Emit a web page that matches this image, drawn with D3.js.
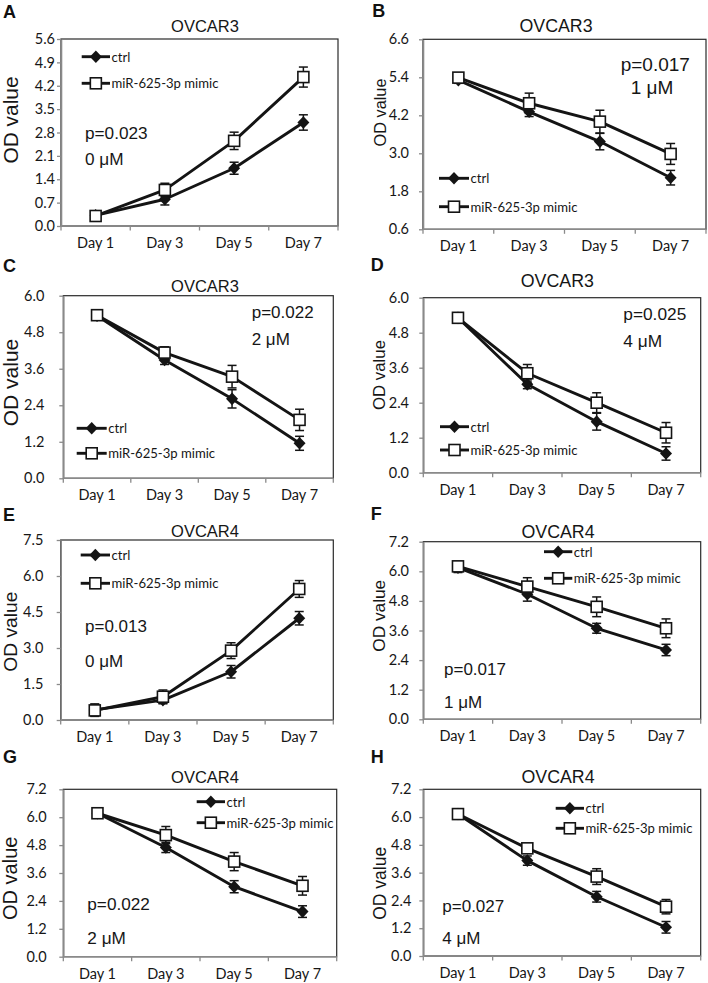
<!DOCTYPE html>
<html><head><meta charset="utf-8">
<script src="https://cdn.jsdelivr.net/npm/d3@7"></script>
<style>body{margin:0;background:#fff}</style>
</head><body><svg id="c" width="708" height="983"></svg>
<script>
const days = ["Day 1","Day 3","Day 5","Day 7"];
const panelLetters = ["A","B","C","D","E","F","G","H"];
const cellLines = ["OVCAR3","OVCAR3","OVCAR3","OVCAR3","OVCAR4","OVCAR4","OVCAR4","OVCAR4"];
const pLabels = ["p=0.023","p=0.017","p=0.022","p=0.025","p=0.013","p=0.017","p=0.022","p=0.027"];
const doseLabels = ["0 μM","1 μM","2 μM","4 μM","0 μM","1 μM","2 μM","4 μM"];
const seriesNames = ["ctrl","miR-625-3p mimic"];
const yAxisTitle = "OD value";

const ctrlValues = [
  [0.32,0.80,1.73,3.10],
  [5.31,4.31,3.37,2.23],
  [5.34,3.89,2.61,1.15],
  [5.31,3.03,1.75,0.66],
  [0.42,0.83,2.01,4.24],
  [6.15,5.07,3.69,2.81],
  [6.17,4.70,3.01,1.94],
  [6.13,4.12,2.56,1.24]];
const ctrlErrors = [
  [0.12,0.17,0.18,0.23],
  [0.10,0.15,0.26,0.23],
  [0.10,0.15,0.30,0.23],
  [0.10,0.15,0.29,0.23],
  [0.25,0.15,0.26,0.28],
  [0.20,0.28,0.20,0.23],
  [0.12,0.22,0.26,0.25],
  [0.12,0.20,0.23,0.25]];
const mimicValues = [
  [0.30,1.08,2.55,4.46],
  [5.39,4.58,4.00,2.98],
  [5.36,4.13,3.34,1.92],
  [5.31,3.41,2.40,1.37],
  [0.40,0.97,2.89,5.46],
  [6.20,5.38,4.56,3.69],
  [6.17,5.23,4.09,3.05],
  [6.13,4.65,3.43,2.13]];
const mimicErrors = [
  [0.15,0.20,0.26,0.30],
  [0.12,0.32,0.36,0.33],
  [0.12,0.19,0.37,0.35],
  [0.12,0.30,0.34,0.35],
  [0.25,0.28,0.33,0.35],
  [0.20,0.36,0.40,0.38],
  [0.12,0.37,0.39,0.40],
  [0.15,0.20,0.34,0.31]];
const yTicks = [
  [0.0,0.7,1.4,2.1,2.8,3.5,4.2,4.9,5.6],
  [0.6,1.8,3.0,4.2,5.4,6.6],
  [0.0,1.2,2.4,3.6,4.8,6.0],
  [0.0,1.2,2.4,3.6,4.8,6.0],
  [0.0,1.5,3.0,4.5,6.0,7.5],
  [0.0,1.2,2.4,3.6,4.8,6.0,7.2],
  [0.0,1.2,2.4,3.6,4.8,6.0,7.2],
  [0.0,1.2,2.4,3.6,4.8,6.0,7.2]];

// layout (positions / sizes / styles)
const layout = [
  {L:61,R:338,T:39,B:226, lx:3,ly:18.3, tx:205,ty:31.7,tfs:16.5, yx:10,yy:120,yfs:20.9, tickR:55,
   legX1:81.7,legX2:110,legY:[56.7,83.3], px:85,py:[139.3,165],pfs:17.2},
  {L:423,R:706,T:39.3,B:229.3, lx:372.3,ly:16.7, tx:556,ty:31.7,tfs:17.8, yx:379.7,yy:112.5,yfs:16.3, tickR:409,
   legX1:439,legX2:469,legY:[178.3,206.7], px:620.7,py:[70.7,94],pfs:19, px2:630.7},
  {L:63.3,R:333.3,T:295.7,B:478.3, lx:3,ly:271.7, tx:205,ty:291.7,tfs:16.5, yx:10,yy:382.5,yfs:21, tickR:44.3,
   legX1:76.7,legX2:106.7,legY:[428.3,453.3], px:251.7,py:[318.3,345],pfs:17},
  {L:423.3,R:700.7,T:297.7,B:472.7, lx:370.7,ly:270.7, tx:557.3,ty:286.7,tfs:17.8, yx:379,yy:375,yfs:16.8, tickR:409,
   legX1:440,legX2:469,legY:[426.7,450], px:623.3,py:[320,346.7],pfs:17.3},
  {L:60.7,R:333.3,T:540,B:720, lx:3,ly:521, tx:205,ty:536.7,tfs:16.5, yx:10,yy:631.7,yfs:19.2, tickR:43.3,
   legX1:80.7,legX2:110,legY:[555,583.3], px:85,py:[632.3,666.7],pfs:17},
  {L:423.3,R:700.7,T:541.7,B:719.3, lx:370.7,ly:520, tx:558,ty:538.3,tfs:17.8, yx:379,yy:615.8,yfs:17.3, tickR:409,
   legX1:544,legX2:572.3,legY:[551.7,578.3], px:444,py:[675,708.3],pfs:17},
  {L:63.3,R:336.7,T:789.3,B:956.7, lx:3,ly:763.3, tx:205,ty:783.3,tfs:16.5, yx:10,yy:878.3,yfs:20, tickR:46.7,
   legX1:196.7,legX2:225,legY:[801.7,822.7], px:87.3,py:[910,944],pfs:17.2},
  {L:423.3,R:700.7,T:789.3,B:956, lx:370.7,ly:763.3, tx:558,ty:783.3,tfs:17.8, yx:379.5,yy:883.3,yfs:17.5, tickR:411.3,
   legX1:555.7,legX2:584,legY:[808.3,828.3], px:442.3,py:[912.3,944],pfs:17}
];

const INK = "#141414";
const TXT = "#161616";
const AXIS = "#8a8a8a";
const TICKFONT = "Lato, 'Open Sans', sans-serif";
const svg = d3.select("#c");
svg.append("rect").attr("width",708).attr("height",983).attr("fill","#fff");

function diamondPath(cx, cy, w, h){
  return `M${cx},${cy-h}L${cx+w},${cy}L${cx},${cy+h}L${cx-w},${cy}Z`;
}
function drawMarker(g, kind, cx, cy){
  if(kind===0){
    g.append("path").attr("d", diamondPath(cx,cy,6,6.3)).attr("fill",INK);
  } else {
    g.append("rect").attr("x",cx-5.5).attr("y",cy-5.5).attr("width",11).attr("height",11)
      .attr("fill","#fff").attr("stroke",INK).attr("stroke-width",1.6);
  }
}

layout.forEach((lo, i) => {
  const g = svg.append("g");
  const x = d3.scaleBand().domain(days).range([lo.L, lo.R]).paddingInner(0).paddingOuter(0);
  const ticks = yTicks[i];
  const y = d3.scaleLinear().domain([ticks[0], ticks[ticks.length-1]]).range([lo.B, lo.T]);
  const cx = d => x(d) + x.bandwidth()/2;

  // plot frame (top/right)
  g.append("rect").attr("x",lo.L).attr("y",lo.T).attr("width",lo.R-lo.L).attr("height",lo.B-lo.T)
    .attr("fill","none").attr("stroke","#2a2a2a").attr("stroke-width",1.2);

  // y axis
  const yAx = d3.axisLeft(y).tickValues(ticks).tickFormat(d3.format(".1f"))
    .tickSizeInner(4).tickSizeOuter(0).tickPadding(lo.L - lo.tickR - 4);
  const ya = g.append("g").attr("transform",`translate(${lo.L},0)`).call(yAx);
  ya.select(".domain").attr("stroke",AXIS).attr("stroke-width",1.6);
  ya.selectAll(".tick line").attr("stroke",AXIS).attr("stroke-width",1.3);
  ya.selectAll(".tick text").attr("font-family",TICKFONT).attr("font-size",14.5).attr("fill",TXT);

  // x axis (labels at band centres, ticks at band boundaries)
  const xAx = d3.axisBottom(x).tickSize(0).tickPadding(0);
  const xa = g.append("g").attr("transform",`translate(0,${lo.B})`).call(xAx);
  xa.select(".domain").remove();
  xa.selectAll(".tick text").attr("font-family",TICKFONT).attr("font-size",14.5)
    .attr("fill",TXT).attr("dy",null).attr("y",22);
  g.append("line").attr("x1",lo.L).attr("x2",lo.R).attr("y1",lo.B).attr("y2",lo.B)
    .attr("stroke",AXIS).attr("stroke-width",1.6);
  const bounds = days.map(d => x(d)).concat([lo.R]);
  g.selectAll(".xb").data(bounds).enter().append("line")
    .attr("x1",d=>d).attr("x2",d=>d).attr("y1",lo.B).attr("y2",lo.B+4.5)
    .attr("stroke",AXIS).attr("stroke-width",1.3);

  // series
  const series = [
    {vals: ctrlValues[i], errs: ctrlErrors[i], kind:0},
    {vals: mimicValues[i], errs: mimicErrors[i], kind:1}
  ];
  const line = d3.line().x((d,j)=>cx(days[j])).y(d=>y(d));
  series.forEach(s => {
    g.append("path").attr("d", line(s.vals)).attr("fill","none")
      .attr("stroke",INK).attr("stroke-width",2.9).attr("stroke-linejoin","round");
  });
  series.forEach(s => {
    s.vals.forEach((v,j) => {
      const px = cx(days[j]);
      const y1 = y(v - s.errs[j]), y2 = y(v + s.errs[j]);
      g.append("line").attr("x1",px).attr("x2",px).attr("y1",y1).attr("y2",y2).attr("stroke",INK).attr("stroke-width",1.5);
      g.append("line").attr("x1",px-4.5).attr("x2",px+4.5).attr("y1",y1).attr("y2",y1).attr("stroke",INK).attr("stroke-width",1.5);
      g.append("line").attr("x1",px-4.5).attr("x2",px+4.5).attr("y1",y2).attr("y2",y2).attr("stroke",INK).attr("stroke-width",1.5);
    });
  });
  series.forEach(s => {
    s.vals.forEach((v,j) => drawMarker(g, s.kind, cx(days[j]), y(v)));
  });

  // legend
  seriesNames.forEach((name, k) => {
    const ly = lo.legY[k];
    g.append("line").attr("x1",lo.legX1).attr("x2",lo.legX2).attr("y1",ly).attr("y2",ly)
      .attr("stroke",INK).attr("stroke-width",2.9);
    drawMarker(g, k, (lo.legX1+lo.legX2)/2, ly);
    g.append("text").attr("x",lo.legX2+1.5).attr("y",ly+4.8).text(name)
      .attr("font-family",TICKFONT).attr("font-size",13.1).attr("fill",TXT);
  });

  // titles and annotations
  g.append("text").attr("x",lo.lx).attr("y",lo.ly).text(panelLetters[i])
    .attr("font-family","'Liberation Sans', Arial, sans-serif").attr("font-weight","bold")
    .attr("font-size",18).attr("fill","#111");
  g.append("text").attr("x",lo.tx).attr("y",lo.ty).attr("text-anchor","middle").text(cellLines[i])
    .attr("font-family","'Liberation Sans', Arial, sans-serif").attr("font-size",lo.tfs).attr("fill",TXT);
  g.append("text").attr("transform",`translate(${lo.yx},${lo.yy}) rotate(-90)`)
    .attr("text-anchor","middle").attr("dominant-baseline","central").text(yAxisTitle)
    .attr("font-family","'Liberation Sans', Arial, sans-serif").attr("font-size",lo.yfs).attr("fill",TXT);
  g.append("text").attr("x",lo.px).attr("y",lo.py[0]).text(pLabels[i])
    .attr("font-family","'Liberation Sans', Arial, sans-serif").attr("font-size",lo.pfs).attr("fill",TXT);
  g.append("text").attr("x",lo.px2 || lo.px).attr("y",lo.py[1]).text(doseLabels[i])
    .attr("font-family","'Liberation Sans', Arial, sans-serif").attr("font-size",lo.pfs).attr("fill",TXT);
});
</script>
</body></html>
